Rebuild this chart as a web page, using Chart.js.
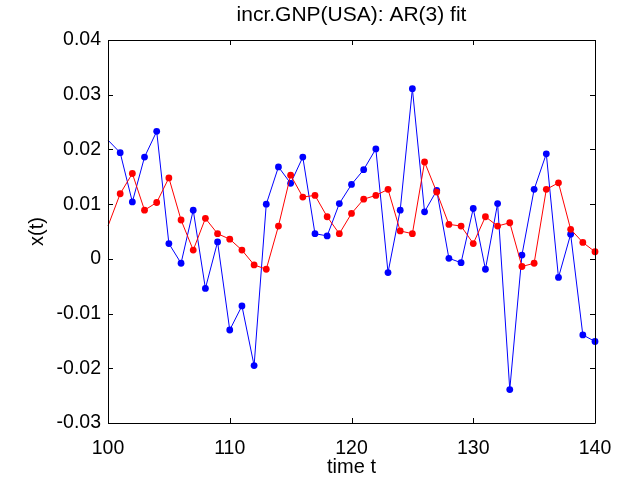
<!DOCTYPE html>
<html>
<head>
<meta charset="utf-8">
<script src="https://cdn.jsdelivr.net/npm/chart.js@4.4.1/dist/chart.umd.min.js"></script>
<style>
  html, body { margin: 0; padding: 0; background: #fff; }
  #wrap { width: 625px; height: 479px; }
</style>
</head>
<body>
<div id="wrap"><canvas id="myChart" width="625" height="479"></canvas></div>
<script>
// time index 100..140
const timeT = Array.from({ length: 41 }, (_, i) => 100 + i);

// observed incr. GNP (blue)
const observed = [
  0.0217, 0.0194, 0.0104, 0.0186, 0.0233, 0.0028, -0.0008, 0.0089, -0.0054, 0.0031,
  -0.0130, -0.0086, -0.0195, 0.0100, 0.0168, 0.0138, 0.0186, 0.0046, 0.0042, 0.0101,
  0.0136, 0.0163, 0.0201, -0.0025, 0.0089, 0.0311, 0.0086, 0.0125, 0.0001, -0.0007,
  0.0092, -0.0019, 0.0101, -0.0239, 0.0007, 0.0127, 0.0192, -0.0034, 0.0045, -0.0139,
  -0.0151
];

// AR(3) fitted values (red)
const fitted = [
  0.0060, 0.0119, 0.0156, 0.0089, 0.0103, 0.0148, 0.0071, 0.0016, 0.0074, 0.0046,
  0.0036, 0.0016, -0.0011, -0.0019, 0.0060, 0.0153, 0.0113, 0.0116, 0.0077, 0.0046,
  0.0083, 0.0109, 0.0116, 0.0127, 0.0051, 0.0046, 0.0177, 0.0122, 0.0063, 0.0060,
  0.0028, 0.0077, 0.0060, 0.0066, -0.0014, -0.0008, 0.0127, 0.0139, 0.0054, 0.0030,
  0.0013
];

const xTicks = [100, 110, 120, 130, 140];
const yTicks = [-0.03, -0.02, -0.01, 0, 0.01, 0.02, 0.03, 0.04];

const FONT = 'Liberation Sans, Arial, sans-serif';

const toPts = (vals) => vals.map((v, i) => ({ x: timeT[i], y: v }));
// first sample sits on the left border: line only, no marker
const markerSize = (ctx) => (ctx.raw && ctx.raw.x <= 100 ? 0 : 3.4);

// matlab-like box with inward ticks on all four sides
const boxPlugin = {
  id: 'matlabBox',
  afterDatasetsDraw(chart) {
    const { ctx, chartArea: a, scales } = chart;
    const tl = 5;
    ctx.save();
    ctx.strokeStyle = '#000';
    ctx.lineWidth = 1;
    ctx.beginPath();
    ctx.rect(Math.round(a.left) + 0.5, Math.round(a.top) + 0.5,
      Math.round(a.right - a.left), Math.round(a.bottom - a.top));
    for (const v of xTicks) {
      const px = Math.round(scales.x.getPixelForValue(v)) + 0.5;
      ctx.moveTo(px, a.bottom); ctx.lineTo(px, a.bottom - tl);
      ctx.moveTo(px, a.top); ctx.lineTo(px, a.top + tl);
    }
    for (const v of yTicks) {
      const py = Math.round(scales.y.getPixelForValue(v)) + 0.5;
      ctx.moveTo(a.left, py); ctx.lineTo(a.left + tl, py);
      ctx.moveTo(a.right, py); ctx.lineTo(a.right - tl, py);
    }
    ctx.stroke();
    ctx.restore();
  }
};

const ctx = document.getElementById('myChart').getContext('2d');
new Chart(ctx, {
  type: 'scatter',
  data: {
    datasets: [
      {
        label: 'AR(3) fit',
        data: toPts(fitted),
        showLine: true,
        borderColor: '#ff0000',
        backgroundColor: '#ff0000',
        borderWidth: 1,
        pointRadius: markerSize,
        pointBorderWidth: 0,
        tension: 0,
        clip: false
      },
      {
        label: 'incr.GNP',
        data: toPts(observed),
        showLine: true,
        borderColor: '#0000ff',
        backgroundColor: '#0000ff',
        borderWidth: 1,
        pointRadius: markerSize,
        pointBorderWidth: 0,
        tension: 0,
        clip: false
      }
    ]
  },
  options: {
    responsive: false,
    animation: false,
    layout: { padding: { left: 0, right: 30, top: 0, bottom: 0 } },
    plugins: {
      legend: { display: false },
      tooltip: { enabled: false },
      title: {
        display: true,
        fullSize: false,
        text: 'incr.GNP(USA): AR(3) fit',
        color: '#000',
        font: { family: FONT, size: 21, weight: 'normal', lineHeight: 1.2 },
        padding: { top: 3, bottom: 11.8 }
      }
    },
    scales: {
      x: {
        type: 'linear',
        min: 100,
        max: 140,
        afterBuildTicks: (s) => { s.ticks = xTicks.map((v) => ({ value: v })); },
        afterFit: (s) => { s.height = 56; },
        grid: { display: false },
        border: { display: false },
        ticks: {
          color: '#000',
          padding: 6,
          maxRotation: 0,
          font: { family: FONT, size: 19.5 }
        },
        title: {
          display: true,
          text: 'time t',
          color: '#000',
          font: { family: FONT, size: 20, lineHeight: 1.2 },
          padding: { top: 0, bottom: 0 }
        }
      },
      y: {
        type: 'linear',
        min: -0.03,
        max: 0.04,
        afterBuildTicks: (s) => { s.ticks = yTicks.map((v) => ({ value: v })); },
        afterFit: (s) => { s.width = 108; },
        grid: { display: false, drawTicks: false },
        border: { display: false },
        ticks: {
          color: '#000',
          padding: 7,
          font: { family: FONT, size: 19.5 },
          callback: (v) => {
            const r = Math.round(v * 100) / 100;
            return r === 0 ? '0' : r.toFixed(2);
          }
        },
        title: {
          display: true,
          text: 'x(t)',
          color: '#000',
          font: { family: FONT, size: 20, lineHeight: 1.2 },
          padding: { top: 25, bottom: 0 }
        }
      }
    }
  },
  plugins: [boxPlugin]
});
</script>
</body>
</html>
